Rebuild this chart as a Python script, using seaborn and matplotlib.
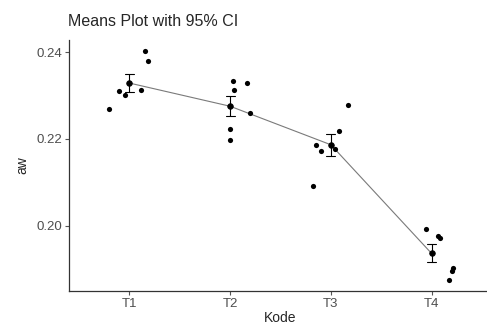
import seaborn as sns
import matplotlib.pyplot as plt
import pandas as pd

# values
kode = ["T1", "T2", "T3", "T4"]
aw_t1 = [0.2268, 0.2402, 0.2379, 0.2310, 0.2301, 0.2312]
aw_t2 = [0.2333, 0.2312, 0.2328, 0.2222, 0.2197, 0.2259]
aw_t3 = [0.2277, 0.2217, 0.2185, 0.2171, 0.2176, 0.2092]
aw_t4 = [0.1993, 0.1977, 0.1972, 0.1903, 0.1894, 0.1875]
# horizontal jitter of each point, as seen in the picture
jit_t1 = [-0.20, 0.15, 0.18, -0.10, -0.04, 0.11]
jit_t2 = [0.03, 0.04, 0.17, 0.00, 0.00, 0.20]
jit_t3 = [0.17, 0.08, -0.15, -0.10, 0.04, -0.18]
jit_t4 = [-0.06, 0.06, 0.08, 0.21, 0.20, 0.17]

groups = [aw_t1, aw_t2, aw_t3, aw_t4]
jitters = [jit_t1, jit_t2, jit_t3, jit_t4]

rows = []
for i, (k, vals, jit) in enumerate(zip(kode, groups, jitters)):
    for v, j in zip(vals, jit):
        rows.append({"Kode": k, "aw": v, "xpos": i + j})
df = pd.DataFrame(rows)

sns.set_theme(style="ticks")
plt.rcParams["font.family"] = ["Liberation Sans", "DejaVu Sans"]

fig = plt.figure(figsize=(4.87, 3.25), dpi=100)
W, H = 487, 325
ax = fig.add_axes([69 / W, 1 - 291 / H, (492 - 69) / W, (291 - 40) / H])

sns.pointplot(data=df, x="Kode", y="aw", order=kode, errorbar="se",
              color="black", markers="o", markersize=4, capsize=0.09,
              err_kws={"linewidth": 0.8}, linewidth=0.8, ax=ax)
# the line joining the means is grey and thin in the reference
for ln in ax.lines:
    if len(ln.get_xdata()) == len(kode):
        ln.set_color("#7a7a7a")
        ln.set_markerfacecolor("black")
        ln.set_markeredgecolor("black")
        ln.set_linewidth(0.8)

sns.scatterplot(data=df, x="xpos", y="aw", color="black", s=14,
                edgecolor="black", linewidth=0, ax=ax, zorder=3)

ax.set_xlim(-0.6, 3.6)
ax.set_ylim(0.1849, 0.2428)
ax.set_xticks(range(len(kode)))
ax.set_xticklabels(kode)
ax.set_yticks([0.20, 0.22, 0.24])
ax.set_yticklabels(["0.20", "0.22", "0.24"])
ax.tick_params(colors="#555555", labelcolor="#4d4d4d", labelsize=9.5,
               length=3, width=0.8, pad=2)
ax.set_xlabel("Kode", fontsize=10, labelpad=1)
ax.set_ylabel("aw", fontsize=10, labelpad=5)
sns.despine(ax=ax)
for s in ["left", "bottom"]:
    ax.spines[s].set_color("#333333")
    ax.spines[s].set_linewidth(0.9)

fig.text(68 / W, 1 - 21 / H, "Means Plot with 95% CI", fontsize=11.5,
         va="center", ha="left")

fig.savefig("out.png", dpi=100)
